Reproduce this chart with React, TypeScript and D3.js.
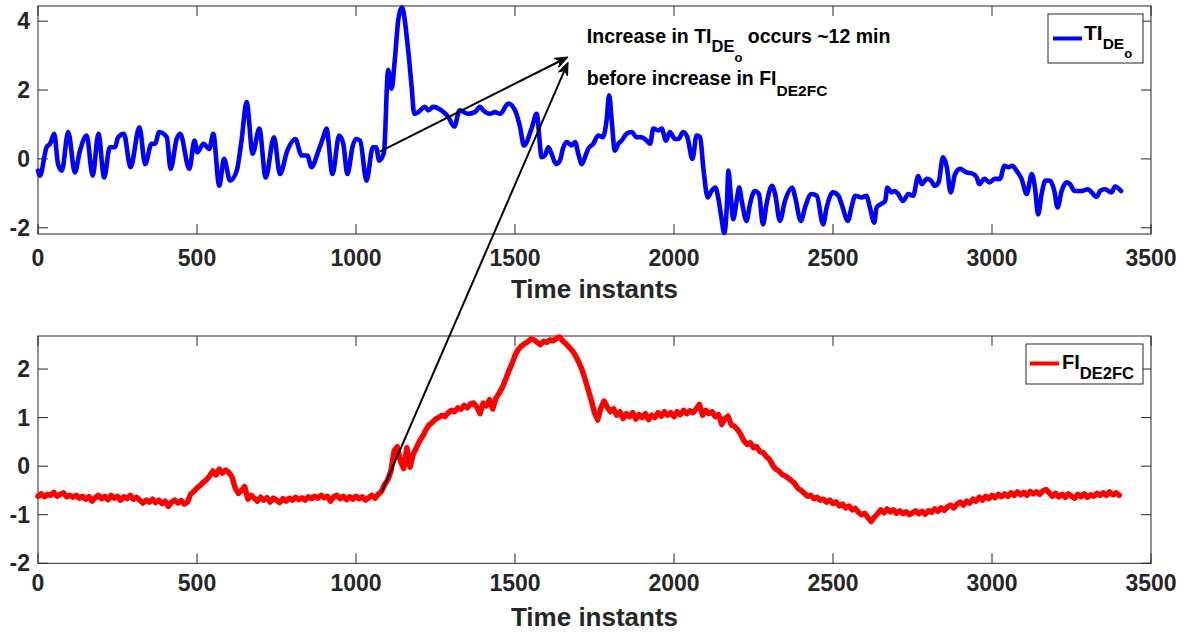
import React from "react";
import * as d3 from "d3";

// ---------- DATA ----------
// TI_DE_o (top panel): time instants and values
const tiX = [0, 6, 27, 38, 51, 63, 75, 95, 116, 132, 153, 172, 190, 208, 226, 242, 252, 270, 291, 319, 337, 357, 368, 381, 405, 417, 436, 447, 476, 492, 501, 520, 539, 551, 570, 585, 604, 625, 640, 656, 675, 696, 716, 742, 761, 784, 809, 829, 847, 860, 882, 897, 907, 926, 947, 960, 973, 990, 1000, 1013, 1033, 1053, 1063, 1073, 1088, 1101, 1112, 1122, 1133, 1144, 1164, 1175, 1183, 1196, 1217, 1227, 1243, 1275, 1290, 1309, 1326, 1352, 1374, 1390, 1400, 1421, 1437, 1453, 1479, 1500, 1516, 1528, 1552, 1568, 1584, 1594, 1605, 1615, 1629, 1641, 1652, 1663, 1678, 1689, 1699, 1710, 1720, 1730, 1746, 1762, 1776, 1788, 1796, 1804, 1814, 1825, 1835, 1851, 1867, 1882, 1898, 1914, 1925, 1935, 1951, 1961, 1975, 1987, 2003, 2014, 2029, 2042, 2058, 2071, 2082, 2092, 2106, 2118, 2130, 2139, 2149, 2158, 2166, 2171, 2179, 2186, 2197, 2205, 2213, 2228, 2239, 2254, 2267, 2280, 2291, 2308, 2318, 2333, 2349, 2372, 2380, 2399, 2412, 2432, 2449, 2469, 2480, 2500, 2517, 2527, 2547, 2558, 2570, 2590, 2605, 2616, 2630, 2637, 2651, 2664, 2671, 2684, 2694, 2705, 2720, 2737, 2752, 2768, 2779, 2795, 2808, 2820, 2832, 2846, 2858, 2870, 2884, 2899, 2920, 2941, 2952, 2960, 2976, 2992, 3009, 3025, 3039, 3052, 3064, 3077, 3093, 3109, 3125, 3135, 3145, 3156, 3168, 3182, 3196, 3206, 3219, 3234, 3245, 3260, 3281, 3302, 3313, 3329, 3340, 3355, 3376, 3387, 3406];
const tiY = [-0.34, -0.49, 0.34, 0.44, 0.73, -0.15, -0.34, 0.78, -0.39, 0.24, 0.68, -0.49, 0.73, -0.54, 0.34, 0.34, 0.63, 0.73, -0.24, 0.92, -0.15, 0.44, 0.44, 0.78, 0.63, -0.29, 0.58, 0.73, -0.29, 0.53, 0.19, 0.44, 0.29, 0.73, -0.78, 0.0, -0.63, -0.34, 0.53, 1.65, 0.15, 0.88, -0.54, 0.63, -0.44, 0.24, 0.58, 0.1, 0.1, -0.24, 0.24, 0.63, 0.88, -0.44, 0.68, 0.44, -0.44, 0.39, 0.58, 0.53, -0.63, 0.34, 0.34, -0.05, 0.19, 2.58, 2.04, 2.87, 4.04, 4.4, 3.16, 2.09, 1.31, 1.36, 1.51, 1.41, 1.51, 1.36, 1.22, 0.94, 1.41, 1.31, 1.36, 1.51, 1.41, 1.31, 1.36, 1.31, 1.61, 1.41, 0.92, 0.39, 0.88, 1.31, 0.05, 0.1, 0.34, 0.15, -0.15, -0.05, 0.34, 0.49, 0.39, 0.49, 0.15, -0.15, 0.05, 0.29, 0.44, 0.68, 0.63, 1.12, 1.85, 1.12, 0.24, 0.44, 0.53, 0.73, 0.78, 0.63, 0.63, 0.53, 0.44, 0.88, 0.83, 0.88, 0.53, 0.78, 0.58, 0.58, 0.78, 0.63, 0.0, 0.68, 0.63, -0.24, -1.12, -0.93, -0.83, -1.12, -1.7, -2.15, -1.41, -0.34, -1.12, -1.75, -1.22, -0.83, -1.22, -1.8, -1.31, -0.93, -1.02, -1.9, -1.31, -0.78, -1.02, -1.8, -1.22, -0.83, -1.07, -1.8, -1.41, -1.02, -1.07, -1.9, -1.41, -0.97, -1.07, -1.31, -1.8, -1.41, -1.07, -1.12, -1.07, -1.41, -1.85, -1.41, -1.31, -1.22, -0.83, -0.97, -0.93, -1.02, -1.22, -1.02, -1.07, -0.5, -0.73, -0.58, -0.63, -0.78, -0.68, 0.05, -0.24, -0.97, -0.44, -0.29, -0.39, -0.44, -0.54, -0.73, -0.58, -0.68, -0.58, -0.58, -0.2, -0.24, -0.2, -0.34, -0.58, -1.02, -0.44, -0.83, -1.61, -1.02, -0.63, -0.63, -0.93, -1.41, -0.93, -0.68, -0.73, -0.93, -0.93, -0.88, -0.97, -1.1, -0.93, -0.88, -0.97, -0.8, -0.93];

// FI_DE2FC (bottom panel): one value every 10 time instants, 0..3400
const fiStep = 10;
const fiY = [
  -0.62, -0.57, -0.63, -0.58, -0.6, -0.54, -0.62, -0.58, -0.55, -0.63,
  -0.6, -0.64, -0.6, -0.66, -0.62, -0.68, -0.63, -0.72, -0.65, -0.6,
  -0.67, -0.62, -0.69, -0.6, -0.66, -0.62, -0.7, -0.63, -0.67, -0.6,
  -0.68, -0.64, -0.7, -0.76, -0.7, -0.74, -0.68, -0.75, -0.7, -0.77,
  -0.72, -0.83, -0.74, -0.7, -0.76, -0.71, -0.78, -0.74, -0.58, -0.52,
  -0.45, -0.4, -0.33, -0.28, -0.2, -0.1, -0.18, -0.06, -0.14, -0.08,
  -0.13, -0.22, -0.45, -0.56, -0.5, -0.42, -0.68, -0.6, -0.66, -0.72,
  -0.64, -0.7, -0.65, -0.74, -0.66, -0.7, -0.75, -0.67, -0.72, -0.66,
  -0.7, -0.64, -0.69, -0.65, -0.7, -0.63, -0.67, -0.62, -0.66, -0.6,
  -0.65, -0.62, -0.72, -0.63, -0.6, -0.67, -0.62, -0.69, -0.63, -0.68,
  -0.62, -0.67, -0.63, -0.7, -0.65, -0.6, -0.66, -0.58, -0.52, -0.38,
  -0.28, -0.1, 0.32, 0.4, 0.1, -0.05, 0.38, -0.02, 0.25, 0.38,
  0.52, 0.62, 0.75, 0.85, 0.9, 0.97, 1.0, 1.05, 1.02, 1.1,
  1.15, 1.12, 1.2, 1.17, 1.25, 1.2, 1.28, 1.3, 1.22, 1.08,
  1.3, 1.24, 1.37, 1.18, 1.4, 1.5, 1.62, 1.78, 1.95, 2.1,
  2.28, 2.4, 2.47, 2.52, 2.56, 2.62, 2.6, 2.55, 2.5, 2.57,
  2.55, 2.6, 2.58, 2.63, 2.66, 2.58, 2.52, 2.45, 2.38, 2.28,
  2.15, 2.0, 1.8, 1.58, 1.35, 1.1, 0.95, 1.2, 1.34, 1.22,
  1.12, 1.18, 1.05, 1.12, 0.98, 1.08, 1.02, 1.1, 0.97, 1.06,
  1.0, 1.08, 0.96, 1.05, 1.0, 1.1, 1.03, 1.12, 1.05, 1.1,
  1.02, 1.12, 1.06, 1.15, 1.08, 1.14, 1.1, 1.18, 1.27, 1.05,
  1.15, 1.08, 1.12, 1.02, 1.06, 0.86, 0.98, 1.03, 0.85, 0.82,
  0.75, 0.65, 0.52, 0.45, 0.48, 0.38, 0.4, 0.3, 0.28, 0.2,
  0.14, 0.02, -0.06, -0.1, -0.17, -0.2, -0.25, -0.3, -0.36, -0.46,
  -0.5, -0.56, -0.62, -0.6, -0.67, -0.64, -0.7, -0.68, -0.74, -0.7,
  -0.77, -0.74, -0.82, -0.78, -0.86, -0.82, -0.9, -0.87, -0.95, -1.0,
  -0.97, -1.06, -1.14, -1.05, -0.98, -0.9, -0.96, -0.88, -0.94, -0.9,
  -0.97, -0.92, -0.98, -0.94, -1.0, -0.96, -0.92, -0.98, -0.93, -0.99,
  -0.92, -0.95, -0.88, -0.93, -0.86, -0.91, -0.84, -0.8, -0.86, -0.78,
  -0.74, -0.8, -0.72, -0.76, -0.68, -0.72, -0.64, -0.7, -0.62, -0.67,
  -0.6, -0.65, -0.58, -0.63, -0.57, -0.62, -0.55, -0.6, -0.53, -0.59,
  -0.54, -0.6, -0.52, -0.57, -0.53, -0.58, -0.51, -0.48, -0.55, -0.62,
  -0.56, -0.63, -0.58, -0.64, -0.57, -0.62, -0.66, -0.58, -0.63, -0.57,
  -0.64, -0.59, -0.62, -0.56, -0.6, -0.55, -0.6, -0.53, -0.59, -0.55,
  -0.6,
];

const xTicks = [0, 500, 1000, 1500, 2000, 2500, 3000, 3500];
const tiYTicks = [-2, 0, 2, 4];
const fiYTicks = [-2, -1, 0, 1, 2];
const xLabel = "Time instants";

// annotation arrows (data coordinates)
const arrow1 = { from: { panel: "top", x: 1075, y: 0.21 }, to: { panel: "top", x: 1667, y: 2.96 } };
const arrow2 = { from: { panel: "bottom", x: 1082, y: -0.52 }, to: { panel: "top", x: 1667, y: 2.81 } };
const noteAt = { x: 1726, y1: 3.36, y2: 2.14 };

// ---------- LAYOUT ----------
const W = 1192;
const H = 637;
const LEFT = 38;
const RIGHT = 1151;
const TOP_PANEL = { top: 6, bottom: 234, domain: [-2.18, 4.44] };
const BOT_PANEL = { top: 336, bottom: 563.3, domain: [-2, 2.68] };
const FONT = "'Liberation Sans', Arial, Helvetica, sans-serif";
const AX = "#262626";

const x = d3.scaleLinear().domain([0, 3500]).range([LEFT, RIGHT]);
const yTop = d3.scaleLinear().domain(TOP_PANEL.domain).range([TOP_PANEL.bottom, TOP_PANEL.top]);
const yBot = d3.scaleLinear().domain(BOT_PANEL.domain).range([BOT_PANEL.bottom, BOT_PANEL.top]);

function Axes({ panel, yScale, yTicks, labelOffset, titleY }) {
  const TL = 10;
  return (
    <g>
      <rect x={LEFT} y={panel.top} width={RIGHT - LEFT} height={panel.bottom - panel.top} fill="none" stroke={AX} strokeWidth={1} />
      {xTicks.map((t) => (
        <g key={"x" + t}>
          <line x1={x(t)} x2={x(t)} y1={panel.bottom} y2={panel.bottom - TL} stroke={AX} />
          <line x1={x(t)} x2={x(t)} y1={panel.top} y2={panel.top + TL} stroke={AX} />
          <text x={x(t)} y={panel.bottom + labelOffset} textAnchor="middle" fontFamily={FONT} fontWeight="bold" fontSize={23} fill={AX}>
            {t}
          </text>
        </g>
      ))}
      {yTicks.map((t) => (
        <g key={"y" + t}>
          <line x1={LEFT} x2={LEFT + TL} y1={yScale(t)} y2={yScale(t)} stroke={AX} />
          <line x1={RIGHT} x2={RIGHT - TL} y1={yScale(t)} y2={yScale(t)} stroke={AX} />
          <text x={30} y={yScale(t) + 8} textAnchor="end" fontFamily={FONT} fontWeight="bold" fontSize={23} fill={AX}>
            {t}
          </text>
        </g>
      ))}
      <text x={(LEFT + RIGHT) / 2} y={titleY} textAnchor="middle" fontFamily={FONT} fontWeight="bold" fontSize={26} fill={AX}>
        {xLabel}
      </text>
    </g>
  );
}

function Arrow({ a }) {
  const p = (pt) => [x(pt.x), pt.panel === "top" ? yTop(pt.y) : yBot(pt.y)];
  const [x1, y1] = p(a.from);
  const [x2, y2] = p(a.to);
  const ang = Math.atan2(y2 - y1, x2 - x1);
  const L = 13;
  const Wd = 5;
  const back = 9;
  const bx = x2 - L * Math.cos(ang);
  const by = y2 - L * Math.sin(ang);
  const nx = -Math.sin(ang);
  const ny = Math.cos(ang);
  const mx = x2 - back * Math.cos(ang);
  const my = y2 - back * Math.sin(ang);
  const head = `M${x2},${y2} L${bx + nx * Wd},${by + ny * Wd} L${mx},${my} L${bx - nx * Wd},${by - ny * Wd} Z`;
  return (
    <g>
      <line x1={x1} y1={y1} x2={mx} y2={my} stroke="#000" strokeWidth={2} />
      <path d={head} fill="#000" stroke="#000" strokeWidth={1} strokeLinejoin="miter" />
    </g>
  );
}

export default function App() {
  const tiLine = d3
    .line()
    .x((d) => x(d[0]))
    .y((d) => yTop(d[1]))
    .curve(d3.curveMonotoneX)(tiX.map((v, i) => [v, tiY[i]]));
  const fiLine = d3
    .line()
    .x((d) => x(d[0]))
    .y((d) => yBot(d[1]))(fiY.map((v, i) => [i * fiStep, v]));

  return (
    <svg width={W} height={H} style={{ position: "absolute", left: 0, top: 0, background: "#fff" }}>
      <rect x={0} y={0} width={W} height={H} fill="#fff" />
      <Axes panel={TOP_PANEL} yScale={yTop} yTicks={tiYTicks} labelOffset={32} titleY={298} />
      <Axes panel={BOT_PANEL} yScale={yBot} yTicks={fiYTicks} labelOffset={28} titleY={626} />

      <path d={tiLine} fill="none" stroke="#0000ff" strokeWidth={4.6} strokeLinejoin="round" strokeLinecap="round" />
      <path d={fiLine} fill="none" stroke="#ff0000" strokeWidth={5.5} strokeLinejoin="round" strokeLinecap="round" />

      {/* legends */}
      <g fontFamily={FONT} fontWeight="bold" fill="#000">
        <rect x={1048} y={14} width={95} height={49} fill="#fff" stroke={AX} strokeWidth={1} />
        <line x1={1053} x2={1082} y1={38.5} y2={38.5} stroke="#0000ff" strokeWidth={4} />
        <text x={1084} y={40} fontSize={21}>
          TI
          <tspan dy={9} fontSize={15.5}>DE</tspan>
          <tspan dy={9} fontSize={13}>o</tspan>
        </text>

        <rect x={1026} y={344} width={117} height={40} fill="#fff" stroke={AX} strokeWidth={1} />
        <line x1={1030} x2={1059} y1={363.5} y2={363.5} stroke="#ff0000" strokeWidth={4} />
        <text x={1062} y={369} fontSize={20}>
          FI
          <tspan dy={10} fontSize={16.5}>DE2FC</tspan>
        </text>
      </g>

      {/* annotation */}
      <g fontFamily={FONT} fontWeight="bold" fill="#000">
        <text x={x(noteAt.x)} y={yTop(noteAt.y1)} fontSize={19.5}>
          Increase in TI
          <tspan dy={8.5} fontSize={16.5}>DE</tspan>
          <tspan dy={10} fontSize={13}>o</tspan>
          <tspan dy={-18.5} fontSize={19.5}>{" occurs ~12 min"}</tspan>
        </text>
        <text x={x(noteAt.x)} y={yTop(noteAt.y2)} fontSize={19.5}>
          before increase in FI
          <tspan dy={11} fontSize={15.5}>DE2FC</tspan>
        </text>
      </g>
      <Arrow a={arrow1} />
      <Arrow a={arrow2} />
    </svg>
  );
}
